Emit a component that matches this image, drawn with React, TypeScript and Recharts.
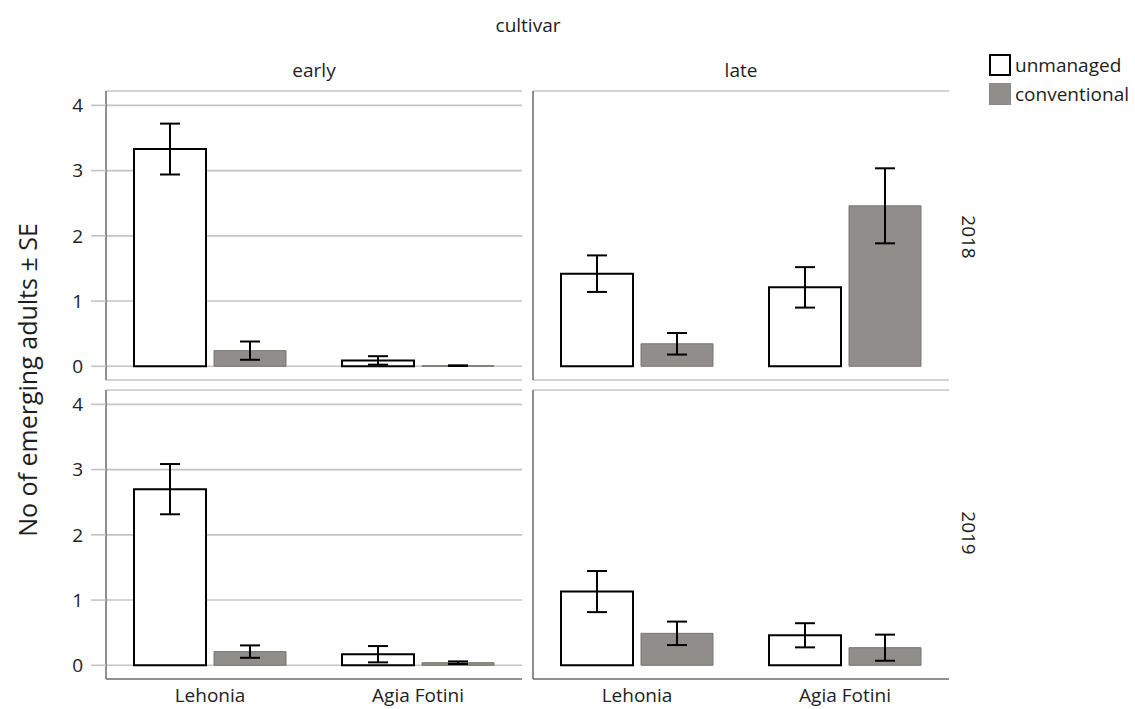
import { BarChart, Bar, XAxis, YAxis, CartesianGrid, ErrorBar } from 'recharts'

const cultivars = ['Lehonia', 'Agia Fotini']
const yTicks = [0, 1, 2, 3, 4]
const seriesNames = ['unmanaged', 'conventional']

// means and standard errors, read per panel (cultivar group x year)
const early2018Unmanaged = [3.33, 0.09]
const early2018UnmanagedSe = [0.39, 0.065]
const early2018Conventional = [0.24, 0.01]
const early2018ConventionalSe = [0.14, 0.005]

const late2018Unmanaged = [1.42, 1.21]
const late2018UnmanagedSe = [0.28, 0.31]
const late2018Conventional = [0.345, 2.46]
const late2018ConventionalSe = [0.165, 0.575]

const early2019Unmanaged = [2.7, 0.17]
const early2019UnmanagedSe = [0.385, 0.125]
const early2019Conventional = [0.21, 0.04]
const early2019ConventionalSe = [0.095, 0.02]

const late2019Unmanaged = [1.13, 0.46]
const late2019UnmanagedSe = [0.315, 0.185]
const late2019Conventional = [0.49, 0.27]
const late2019ConventionalSe = [0.18, 0.2]

const FONT = '"Open Sans", sans-serif'
const GRID = '#c4c4c4'
const GRAY_FILL = '#8f8e8a'

function makeRows(u: number[], uSe: number[], c: number[], cSe: number[]) {
  return cultivars.map((name, i) => ({
    name,
    unmanaged: u[i],
    unmanagedSe: uSe[i],
    conventional: c[i],
    conventionalSe: cSe[i],
  }))
}

function Panel({
  data,
  left,
  top,
  showYTicks,
  showXTicks,
}: {
  data: any[]
  left: number
  top: number
  showYTicks: boolean
  showXTicks: boolean
}) {
  // left panels carry the y tick labels, right panels only the axis line
  const yWidth = showYTicks ? 106 : 1
  const marginLeft = showYTicks ? 0 : 4
  const plotW = 416
  const plotH = 289
  const xHeight = showXTicks ? 30 : 0
  const width = marginLeft + yWidth + plotW + 5
  const height = 10 + plotH + xHeight + (showXTicks ? 0 : 10)

  return (
    <div style={{ position: 'absolute', left, top }}>
      <BarChart
        width={width}
        height={height}
        data={data}
        margin={{ top: 10, right: 5, bottom: showXTicks ? 0 : 10, left: marginLeft }}
        barSize={72}
        barGap={8}
      >
        <CartesianGrid vertical={false} stroke={GRID} strokeWidth={1.6} />
        <XAxis
          dataKey="name"
          height={xHeight}
          axisLine={{ stroke: '#7a7a7a', strokeWidth: 1.5 }}
          tickLine={false}
          tickSize={0}
          tickMargin={10}
          tick={showXTicks ? { fontSize: 19, fill: '#222', fontFamily: FONT } : false}
        />
        <YAxis
          type="number"
          domain={[-0.21, 4.22]}
          ticks={yTicks}
          allowDataOverflow
          width={yWidth}
          axisLine={{ stroke: '#6a6a6a', strokeWidth: 1.5 }}
          tickLine={showYTicks ? { stroke: GRID, strokeWidth: 1.6 } : false}
          tickSize={showYTicks ? 15 : 0}
          tickMargin={8}
          tick={showYTicks ? { fontSize: 19, fill: '#222', fontFamily: FONT } : false}
        />
        <Bar dataKey="unmanaged" fill="#ffffff" stroke="#000" strokeWidth={2} isAnimationActive={false}>
          <ErrorBar dataKey="unmanagedSe" width={10} stroke="#000" strokeWidth={2} />
        </Bar>
        <Bar dataKey="conventional" fill={GRAY_FILL} stroke="#77766f" strokeWidth={1} isAnimationActive={false}>
          <ErrorBar dataKey="conventionalSe" width={10} stroke="#000" strokeWidth={2} />
        </Bar>
      </BarChart>
    </div>
  )
}

export default function App() {
  const e18 = makeRows(early2018Unmanaged, early2018UnmanagedSe, early2018Conventional, early2018ConventionalSe)
  const l18 = makeRows(late2018Unmanaged, late2018UnmanagedSe, late2018Conventional, late2018ConventionalSe)
  const e19 = makeRows(early2019Unmanaged, early2019UnmanagedSe, early2019Conventional, early2019ConventionalSe)
  const l19 = makeRows(late2019Unmanaged, late2019UnmanagedSe, late2019Conventional, late2019ConventionalSe)

  return (
    <div
      style={{
        position: 'absolute',
        left: 0,
        top: 0,
        width: 1135,
        height: 709,
        background: '#fff',
        fontFamily: FONT,
        overflow: 'hidden',
      }}
    >
      <Panel data={e18} left={0} top={81} showYTicks showXTicks={false} />
      <Panel data={l18} left={528} top={81} showYTicks={false} showXTicks={false} />
      <Panel data={e19} left={0} top={380} showYTicks showXTicks />
      <Panel data={l19} left={528} top={380} showYTicks={false} showXTicks />

      <svg
        width={1135}
        height={709}
        style={{ position: 'absolute', left: 0, top: 0, pointerEvents: 'none' }}
        fontFamily={FONT}
        fill="#1e1e1e"
      >
        <text x={528} y={25} fontSize={19} textAnchor="middle" dominantBaseline="central">
          cultivar
        </text>
        <text x={314} y={70} fontSize={19} textAnchor="middle" dominantBaseline="central">
          early
        </text>
        <text x={741} y={70} fontSize={19} textAnchor="middle" dominantBaseline="central">
          late
        </text>
        <text
          x={969}
          y={237}
          fontSize={19}
          textAnchor="middle"
          dominantBaseline="central"
          transform="rotate(90 969 237)"
        >
          2018
        </text>
        <text
          x={969}
          y={533}
          fontSize={19}
          textAnchor="middle"
          dominantBaseline="central"
          transform="rotate(90 969 533)"
        >
          2019
        </text>
        <text
          x={27}
          y={380}
          fontSize={25}
          textAnchor="middle"
          dominantBaseline="central"
          transform="rotate(-90 27 380)"
        >
          No of emerging adults ± SE
        </text>
      </svg>

      <div style={{ position: 'absolute', left: 989, top: 50 }}>
        {seriesNames.map((name, i) => (
          <div key={name} style={{ display: 'flex', alignItems: 'center', height: 29 }}>
            <div
              style={{
                width: 22,
                height: 22,
                boxSizing: 'border-box',
                background: i === 0 ? '#fff' : GRAY_FILL,
                border: i === 0 ? '2px solid #000' : '1px solid #8a8985',
              }}
            />
            <span style={{ marginLeft: 4, fontSize: 19, color: '#1e1e1e', lineHeight: '22px' }}>{name}</span>
          </div>
        ))}
      </div>
    </div>
  )
}
